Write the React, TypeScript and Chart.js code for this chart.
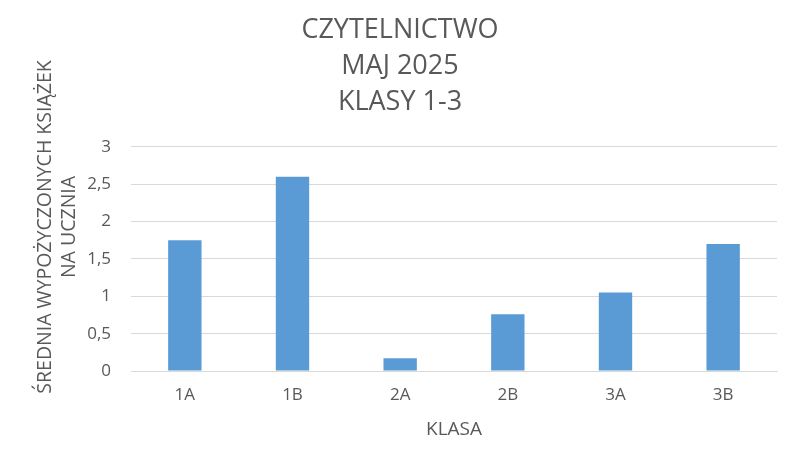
import React, { useEffect, useRef } from "react";
import { Chart, registerables } from "chart.js";

Chart.register(...registerables);

const categories = ["1A", "1B", "2A", "2B", "3A", "3B"];
const values = [1.75, 2.6, 0.17, 0.76, 1.05, 1.7];
const titleLines = ["CZYTELNICTWO", "MAJ 2025", "KLASY 1-3"];
const yTitleLines = ["ŚREDNIA WYPOŻYCZONYCH KSIĄŻEK", "NA UCZNIA"];
const xTitle = "KLASA";

const FONT = "'Open Sans', 'Liberation Sans', sans-serif";
const TEXT = "#595959";

const yTitlePlugin = {
  id: "yTitle",
  afterDraw(chart: any) {
    const ctx = chart.ctx;
    ctx.save();
    ctx.fillStyle = TEXT;
    ctx.font = `19.5px ${FONT}`;
    ctx.textAlign = "center";
    ctx.textBaseline = "middle";
    const xs = [45, 69];
    yTitleLines.forEach((line, i) => {
      ctx.save();
      ctx.translate(xs[i], 227);
      ctx.rotate(-Math.PI / 2);
      ctx.fillText(line, 0, 0);
      ctx.restore();
    });
    ctx.restore();
  },
};

export default function App() {
  const ref = useRef<HTMLCanvasElement | null>(null);
  useEffect(() => {
    if (!ref.current) return;
    const chart = new Chart(ref.current, {
      type: "bar",
      data: {
        labels: categories,
        datasets: [
          {
            data: values,
            backgroundColor: "#5B9BD5",
            borderWidth: 0,
            barPercentage: 0.31,
            categoryPercentage: 1,
          },
        ],
      },
      plugins: [yTitlePlugin],
      options: {
        responsive: false,
        animation: false,
        layout: { padding: { left: 23, right: 23, top: 0, bottom: 0 } },
        plugins: {
          legend: { display: false },
          tooltip: { enabled: false },
          title: {
            display: true,
            text: titleLines,
            color: TEXT,
            font: { family: FONT, size: 27, weight: "normal", lineHeight: 1.333 },
            padding: { top: 12, bottom: 27 },
          },
        },
        scales: {
          x: {
            grid: { display: false, drawTicks: false },
            border: { color: "#D9D9D9", width: 1 },
            ticks: { color: TEXT, font: { family: FONT, size: 17 }, padding: 14 },
            title: {
              display: true,
              text: xTitle,
              color: TEXT,
              font: { family: FONT, size: 19, lineHeight: 1.2 },
              padding: { top: 0, bottom: 25.6 },
            },
            afterFit: (s: any) => {
              s.height = 96;
            },
          },
          y: {
            min: 0,
            max: 3,
            ticks: {
              stepSize: 0.5,
              color: TEXT,
              font: { family: FONT, size: 17 },
              padding: 20,
              callback: (v: any) => String(v).replace(".", ","),
            },
            grid: { color: "#D9D9D9", drawTicks: false },
            border: { display: false },
            afterFit: (s: any) => {
              s.width = 108;
            },
          },
        },
      },
    });
    return () => chart.destroy();
  }, []);
  return (
    <div style={{ position: "absolute", left: 0, top: 0, width: 800, height: 467, background: "#fff" }}>
      <canvas ref={ref} width={800} height={467} style={{ display: "block" }} />
    </div>
  );
}
